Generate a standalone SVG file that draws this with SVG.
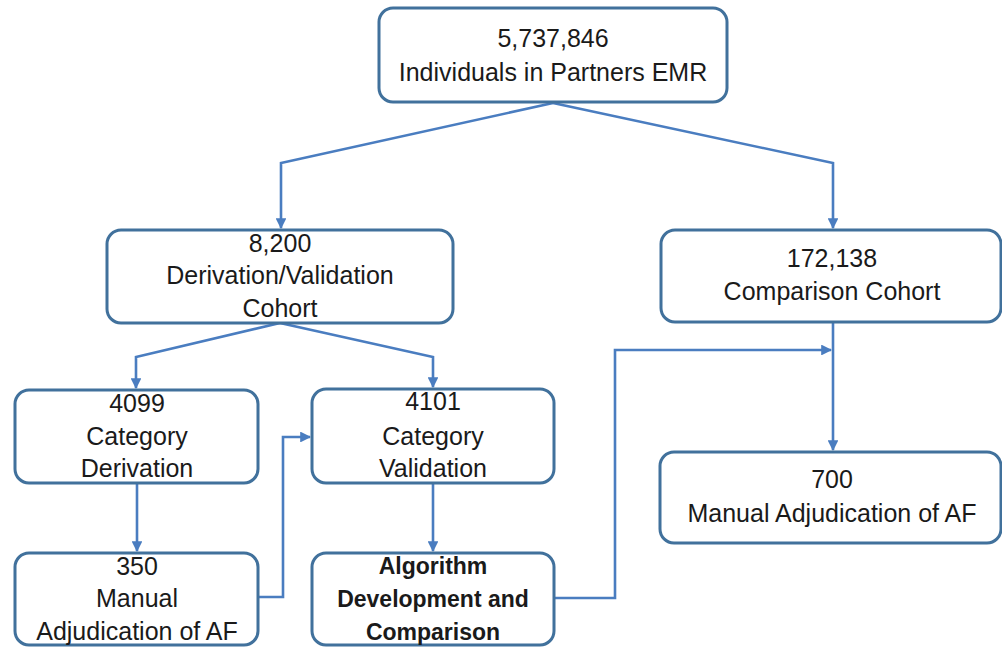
<svg xmlns="http://www.w3.org/2000/svg" width="1002" height="650" viewBox="0 0 1002 650">
<defs>
<marker id="ah" viewBox="0 0 10 10" refX="9" refY="5" markerWidth="4.2" markerHeight="4.2" orient="auto" markerUnits="strokeWidth">
<path d="M0,0 L10,5 L0,10 z" fill="#4a7dc0"/>
</marker>
<style>
.box{fill:#ffffff;stroke:#41719c;stroke-width:3}
.t{font-family:"Liberation Sans",Arial,sans-serif;font-size:25px;fill:#1a1a1a;text-anchor:middle}
.b{font-weight:bold;font-size:23px}
.c{fill:none;stroke:#4a7dc0;stroke-width:2.6;marker-end:url(#ah)}
</style>
</defs>
<rect width="1002" height="650" fill="#ffffff"/>
<g id="connectors">
<path class="c" d="M553,103 L281,163 L281,228"/>
<path class="c" d="M553,103 L833,163 L833,228"/>
<path class="c" d="M280,323 L136,357 L136,388"/>
<path class="c" d="M280,323 L433,357 L433,387"/>
<path class="c" d="M137,483 L137,551"/>
<path class="c" d="M433,483 L433,551"/>
<path class="c" d="M259,597 L283,597 L283,437 L310,437"/>
<path class="c" d="M833,323 L833,450"/>
<path class="c" d="M555,598 L615,598 L615,350 L831,350"/>
</g>
<g id="n1">
<rect class="box" x="379" y="8" width="348" height="94" rx="14"/>
<text class="t" x="553" y="47">5,737,846</text>
<text class="t" x="553" y="81">Individuals in Partners EMR</text>
</g>
<g id="n2">
<rect class="box" x="107" y="230" width="346" height="93" rx="14"/>
<text class="t" x="280" y="252">8,200</text>
<text class="t" x="280" y="284">Derivation/Validation</text>
<text class="t" x="280" y="317">Cohort</text>
</g>
<g id="n3">
<rect class="box" x="661" y="230" width="340" height="92" rx="14"/>
<text class="t" x="832" y="267">172,138</text>
<text class="t" x="832" y="300">Comparison Cohort</text>
</g>
<g id="n4">
<rect class="box" x="15" y="390" width="243" height="93" rx="14"/>
<text class="t" x="137" y="412">4099</text>
<text class="t" x="137" y="445">Category</text>
<text class="t" x="137" y="477">Derivation</text>
</g>
<g id="n5">
<rect class="box" x="312" y="389" width="242" height="94" rx="14"/>
<text class="t" x="433" y="410">4101</text>
<text class="t" x="433" y="445">Category</text>
<text class="t" x="433" y="477">Validation</text>
</g>
<g id="n6">
<rect class="box" x="15" y="553" width="243" height="92" rx="14"/>
<text class="t" x="137" y="575">350</text>
<text class="t" x="137" y="607">Manual</text>
<text class="t" x="137" y="640">Adjudication of AF</text>
</g>
<g id="n7">
<rect class="box" x="312" y="553" width="242" height="92" rx="14"/>
<text class="t b" x="433" y="574">Algorithm</text>
<text class="t b" x="433" y="607">Development and</text>
<text class="t b" x="433" y="640">Comparison</text>
</g>
<g id="n8">
<rect class="box" x="660" y="452" width="341" height="91" rx="14"/>
<text class="t" x="832" y="488">700</text>
<text class="t" x="832" y="522">Manual Adjudication of AF</text>
</g>
</svg>
